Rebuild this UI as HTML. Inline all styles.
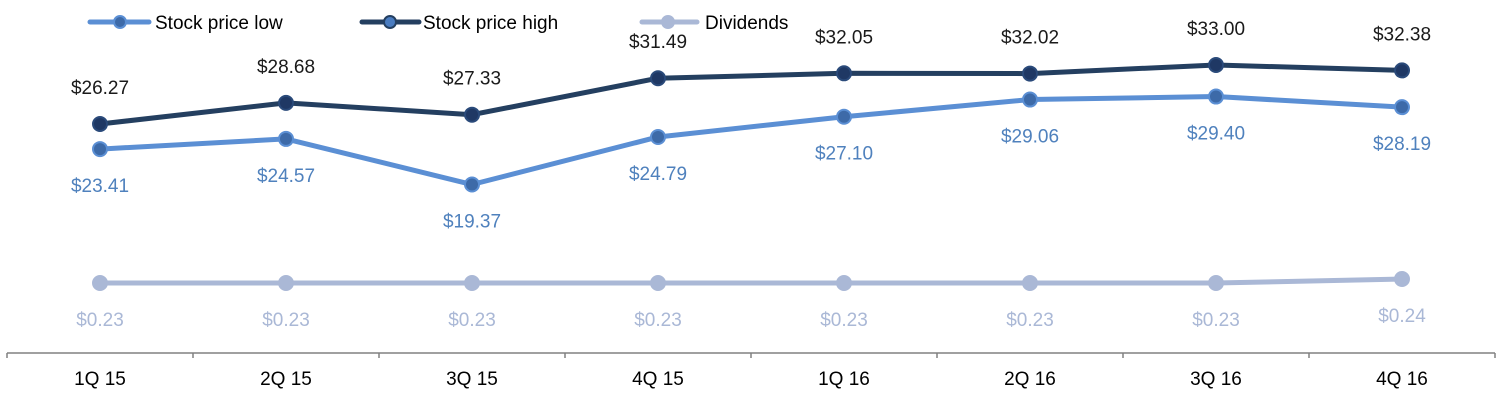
<!DOCTYPE html>
<html><head><meta charset="utf-8"><style>
html,body{margin:0;padding:0;background:#fff;width:1500px;height:400px;overflow:hidden}
svg text{font-family:"Liberation Sans",Arial,sans-serif}
</style></head><body>
<svg id="chart" width="1500" height="400" xmlns="http://www.w3.org/2000/svg">
<g id="legend">
  <g>
    <line x1="90" y1="22" x2="149" y2="22" stroke="#5b8fd4" stroke-width="5" stroke-linecap="round"/>
    <circle cx="120" cy="22" r="6" fill="#3d6aa8" stroke="#5b8fd4" stroke-width="2"/>
    <text x="155" y="29" font-size="19" fill="#000">Stock price low</text>
  </g>
  <g>
    <line x1="362" y1="22" x2="419" y2="22" stroke="#243f60" stroke-width="5" stroke-linecap="round"/>
    <circle cx="390" cy="22" r="6" fill="#4a7cc0" stroke="#243f60" stroke-width="2"/>
    <text x="423" y="29" font-size="19" fill="#000">Stock price high</text>
  </g>
  <g>
    <line x1="642" y1="22" x2="697" y2="22" stroke="#aab8d6" stroke-width="5" stroke-linecap="round"/>
    <circle cx="668" cy="22" r="6" fill="#aab8d6" stroke="#aab8d6" stroke-width="2"/>
    <text x="705" y="29" font-size="19" fill="#000">Dividends</text>
  </g>
</g>
<g id="axis"></g>
<g id="series"></g>
</svg>
<script>
const categories = ["1Q 15","2Q 15","3Q 15","4Q 15","1Q 16","2Q 16","3Q 16","4Q 16"];
const lowValues = [23.41,24.57,19.37,24.79,27.10,29.06,29.40,28.19];
const highValues = [26.27,28.68,27.33,31.49,32.05,32.02,33.00,32.38];
const dividendValues = [0.23,0.23,0.23,0.23,0.23,0.23,0.23,0.24];

const NS="http://www.w3.org/2000/svg";
const x0=7, step=186;
function xScale(i){return x0+step*(i+0.5);}
function yPrice(v){return 124-(v-26.27)*8.77;}
function yDiv(v){return 283-(v-0.23)*400;}
function mk(tag,attrs,parent){const e=document.createElementNS(NS,tag);for(const k in attrs)e.setAttribute(k,attrs[k]);parent.appendChild(e);return e;}

const axis=document.getElementById('axis');
const baseLine=mk('line',{x1:x0,y1:353,x2:x0+step*categories.length,y2:353,stroke:'#808080','stroke-width':1.5},axis);


for(let i=0;i<=categories.length;i++){
  const t=mk('line',{x1:x0+step*i,y1:353,x2:x0+step*i,y2:358,stroke:'#808080','stroke-width':1.5},axis);
  
  
}
categories.forEach((c,i)=>{
  const t=mk('text',{x:xScale(i),y:385,'font-size':19,'text-anchor':'middle',fill:'#000'},axis);
  t.textContent=c;
  
  
});

const series=document.getElementById('series');
function drawSeries(name,vals,yf,line,fill,stroke,labelColor,labelOff){
  const g=mk('g',{},series);
  
  
  const pts=vals.map((v,i)=>xScale(i)+','+yf(v)).join(' ');
  const pl=mk('polyline',{points:pts,fill:'none',stroke:line,'stroke-width':5,'stroke-linejoin':'round'},g);
  
  
  vals.forEach((v,i)=>{
    const c=mk('circle',{cx:xScale(i),cy:yf(v),r:7,fill:fill,stroke:stroke,'stroke-width':2},g);
    
    
    const t=mk('text',{x:xScale(i),y:yf(v)+labelOff,'font-size':19,'text-anchor':'middle',fill:labelColor},g);
    t.textContent='$'+v.toFixed(2);
    
    
  });
}
drawSeries('dividends',dividendValues,yDiv,'#aab8d6','#aab8d6','#aab8d6','#aab8d6',43);
drawSeries('stock-low',lowValues,yPrice,'#5b8fd4','#3d6aa8','#5b8fd4','#4f81bd',43);
drawSeries('stock-high',highValues,yPrice,'#243f60','#1f3864','#2a4a7a','#1a1a1a',-30);
</script>
</body></html>
